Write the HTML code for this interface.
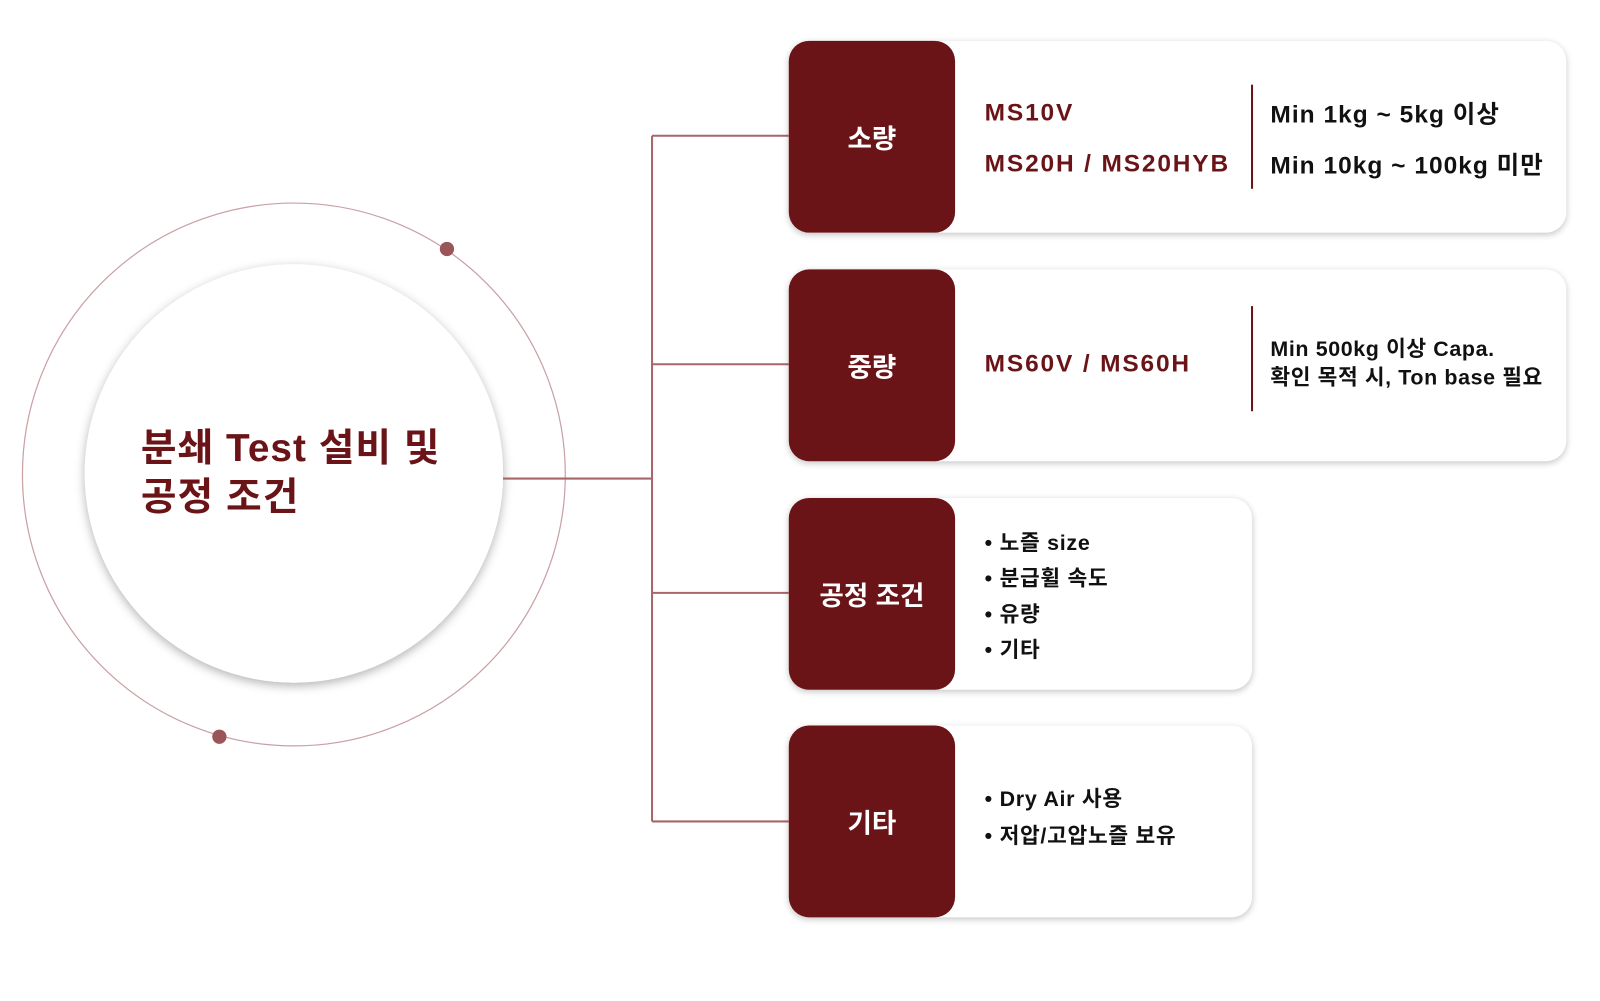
<!DOCTYPE html>
<html><head><meta charset="utf-8"><style>
body{margin:0;width:1600px;height:1001px;background:#fff;position:relative;overflow:hidden;font-family:"Liberation Sans","Noto Sans CJK KR",sans-serif}
#w{position:absolute;left:0;top:0;width:1568px;height:981px;transform:scale(1.0204);transform-origin:0 0}
.a{position:absolute}
.card{position:absolute;left:773px;height:188px;border-radius:20px;background:#fff;box-shadow:0 2px 6px rgba(0,0,0,.22)}
.lab{position:absolute;left:0;top:0;width:163px;height:100%;background:#6b1418;border-radius:20px;color:#fff;font-weight:bold;font-size:26px;display:flex;align-items:center;justify-content:center}
.t{position:absolute;white-space:nowrap;font-weight:bold}
.r{color:#6b1418;font-size:24px;letter-spacing:1.8px}
.k{color:#111;font-size:24px;letter-spacing:1px}
.div{position:absolute;left:453px;width:2px;background:#6b1418}
.b{color:#111;font-size:21px;font-weight:bold;letter-spacing:.7px}
</style></head><body><div id="w">
<svg class="a" style="left:0;top:0" width="1568" height="981">
<circle cx="288" cy="465" r="266" fill="none" stroke="#c9a0a4" stroke-width="1.2"/>
<defs><filter id="s" x="-20%" y="-20%" width="140%" height="140%"><feDropShadow dx="0" dy="3" stdDeviation="5" flood-opacity=".3"/></filter></defs>
<circle cx="288" cy="464" r="205" fill="#fff" filter="url(#s)"/>
<circle cx="438" cy="244" r="7" fill="#9a5559"/>
<circle cx="215" cy="722" r="7" fill="#9a5559"/>
<g stroke="#a8666a" stroke-width="2" fill="none">
<line x1="493" y1="469" x2="639" y2="469"/>
<line x1="639" y1="133" x2="639" y2="805"/>
<line x1="639" y1="133" x2="773" y2="133"/>
<line x1="639" y1="357" x2="773" y2="357"/>
<line x1="639" y1="581" x2="773" y2="581"/>
<line x1="639" y1="805" x2="773" y2="805"/>
</g>
</svg>
<div class="t" style="left:138px;top:416px;font-size:38px;color:#6b1418;line-height:48px;letter-spacing:1px">분쇄 Test 설비 및<br>공정 조건</div>

<div class="card" style="top:40px;width:762px"><div class="lab">소량</div>
<div class="t r" style="left:192px;top:57px">MS10V</div>
<div class="t r" style="left:192px;top:107px">MS20H / MS20HYB</div>
<div class="div" style="top:43px;height:102px"></div>
<div class="t k" style="left:472px;top:52px">Min 1kg ~ 5kg 이상</div>
<div class="t k" style="left:472px;top:102px">Min 10kg ~ 100kg 미만</div>
</div>

<div class="card" style="top:264px;width:762px"><div class="lab">중량</div>
<div class="t r" style="left:192px;top:79px">MS60V / MS60H</div>
<div class="div" style="top:36px;height:103px"></div>
<div class="t k" style="left:472px;top:65px;font-size:21px;line-height:28px;letter-spacing:.6px">Min 500kg 이상 Capa.<br>확인 목적 시, Ton base 필요</div>
</div>

<div class="card" style="top:488px;width:454px"><div class="lab">공정 조건</div>
<div class="t b" style="left:192px;top:27px;line-height:35px">• 노즐 size<br>• 분급휠 속도<br>• 유량<br>• 기타</div>
</div>

<div class="card" style="top:711px;width:454px"><div class="lab">기타</div>
<div class="t b" style="left:192px;top:55px;line-height:36px">• Dry Air 사용<br>• 저압/고압노즐 보유</div>
</div>
</div></body></html>
